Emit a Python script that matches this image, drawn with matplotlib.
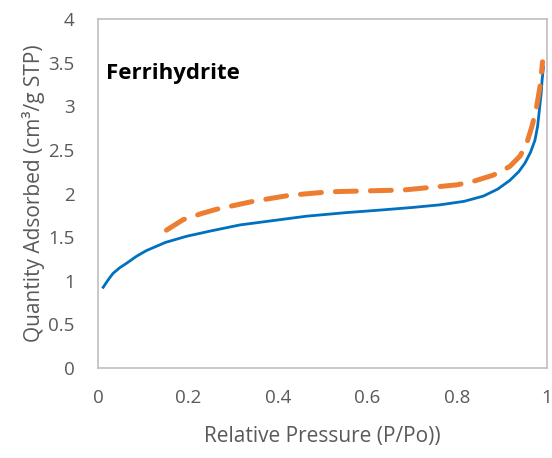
import numpy as np
import matplotlib.pyplot as plt

# adsorption branch
p_ads = [0.011, 0.022, 0.033, 0.048, 0.063, 0.085, 0.107, 0.15, 0.197, 0.25, 0.316,
         0.39, 0.464, 0.55, 0.628, 0.70, 0.761, 0.815, 0.858, 0.89, 0.917, 0.937,
         0.951, 0.963, 0.973, 0.979, 0.983, 0.987, 0.989, 0.992]
q_ads = [0.925, 1.01, 1.085, 1.15, 1.20, 1.28, 1.345, 1.44, 1.51, 1.57, 1.64,
         1.69, 1.74, 1.78, 1.81, 1.84, 1.87, 1.91, 1.97, 2.05, 2.15, 2.25,
         2.35, 2.47, 2.61, 2.77, 2.96, 3.15, 3.30, 3.45]

# desorption branch
p_des = [0.152, 0.189, 0.23, 0.264, 0.345, 0.427, 0.516, 0.598, 0.68, 0.761, 0.80,
         0.836, 0.88, 0.917, 0.94, 0.955, 0.967, 0.977, 0.985, 0.99]
q_des = [1.58, 1.70, 1.77, 1.82, 1.91, 1.98, 2.02, 2.03, 2.04, 2.08, 2.10,
         2.14, 2.21, 2.31, 2.43, 2.58, 2.78, 3.00, 3.25, 3.51]

xticks = [0, 0.2, 0.4, 0.6, 0.8, 1]
xtick_labels = ["0", "0.2", "0.4", "0.6", "0.8", "1"]
yticks = [0, 0.5, 1, 1.5, 2, 2.5, 3, 3.5, 4]
ytick_labels = ["0", "0.5", "1", "1.5", "2", "2.5", "3", "3.5", "4"]

plt.rcParams['font.family'] = ['Open Sans', 'DejaVu Sans']
grey = '#595959'

fig = plt.figure(figsize=(5.52, 4.58), dpi=100)
ax = fig.add_axes([0.178, 0.1965, 0.813, 0.762])

ax.plot(p_ads, q_ads, color='#0070C0', lw=2)
ax.plot(p_des, q_des, color='#ED7D31', lw=3.6, dashes=(4.2, 2.8),
        dash_capstyle='round')

ax.set_xlim(0, 1)
ax.set_ylim(0, 4)
ax.set_xticks(xticks)
ax.set_xticklabels(xtick_labels)
ax.set_yticks(yticks)
ax.set_yticklabels(ytick_labels)
ax.tick_params(length=0, labelsize=13.5, labelcolor=grey)
ax.tick_params(axis='x', pad=15)
ax.tick_params(axis='y', pad=17)
for s in ax.spines.values():
    s.set_color('#BFBFBF')
    s.set_linewidth(1.2)

ax.set_xlabel("Relative Pressure (P/Po))", fontsize=15, color=grey, labelpad=14)
ax.set_ylabel("Quantity Adsorbed (cm³/g STP)", fontsize=15, color=grey, labelpad=2)

ax.text(0.018, 3.37, "Ferrihydrite", fontsize=16, fontweight='bold', va='center', ha='left')

fig.savefig('out.png', dpi=100)
